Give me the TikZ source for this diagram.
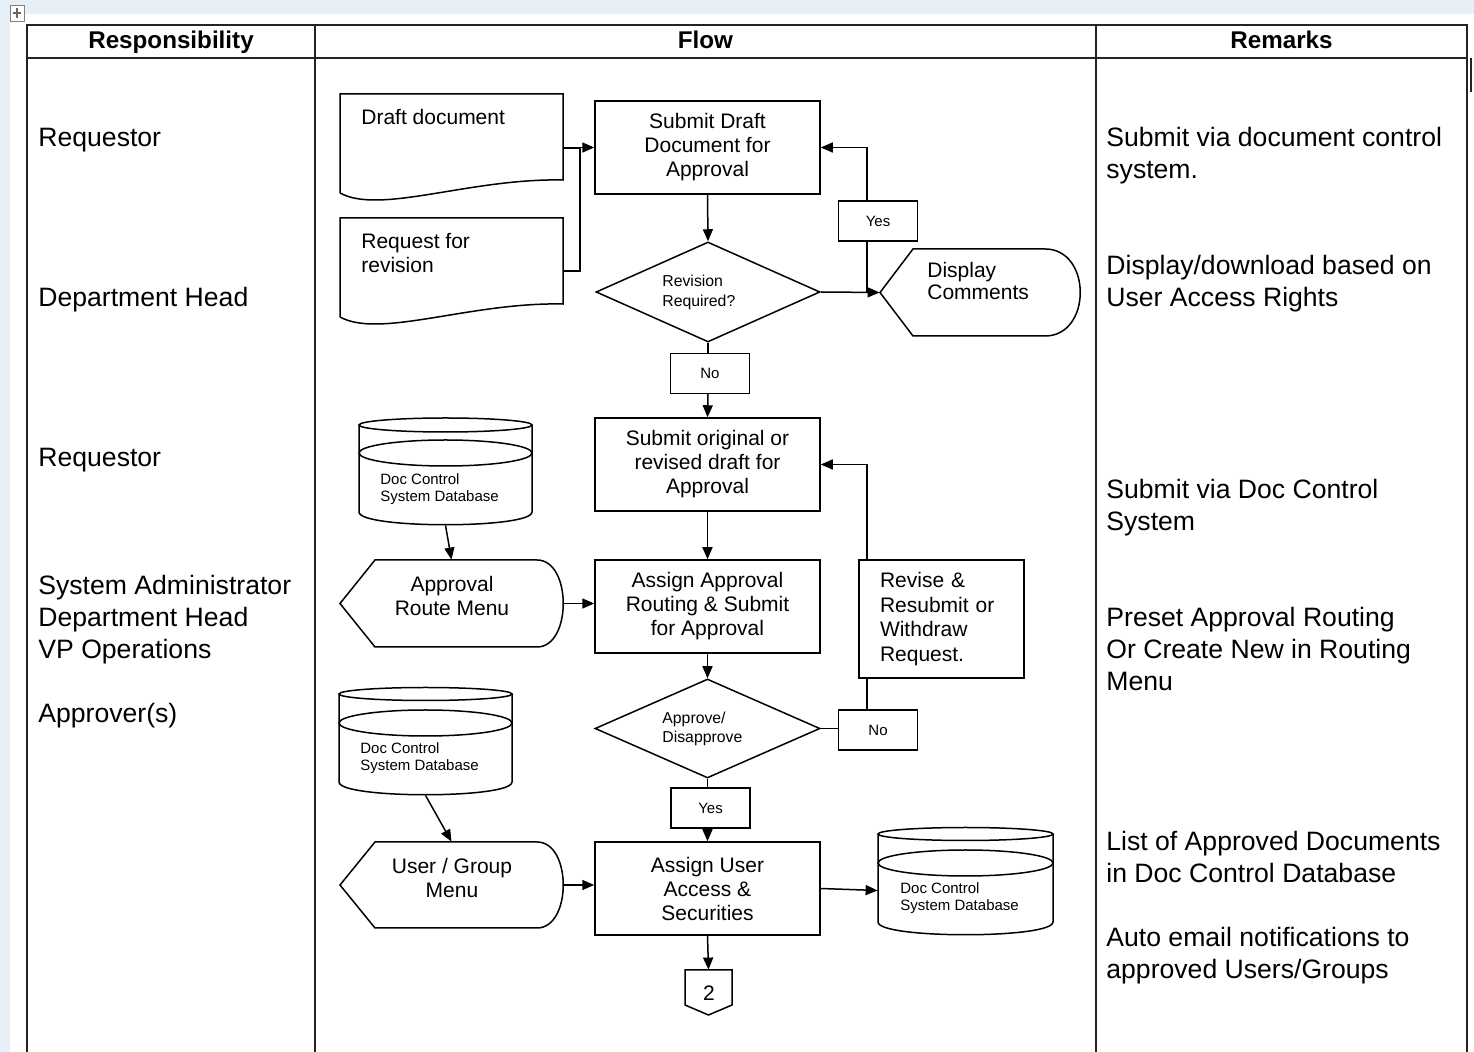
\documentclass[tikz,border=0pt]{standalone}
\usepackage{fontspec}
\setmainfont{Liberation Sans}
\usetikzlibrary{arrows.meta,calc,shapes.geometric}
\definecolor{pageblue}{RGB}{231,240,247}
\definecolor{inkline}{RGB}{35,35,35}
\newcommand\fcBody{\fontsize{13.3}{16}\selectfont}
\newcommand\fcHead{\fontsize{12.1}{14}\selectfont\bfseries}
\newcommand\fcFlow{\fontsize{10.5}{12}\selectfont}
\newcommand\fcSmall{\fontsize{7.9}{10}\selectfont}
\newcommand\fcDb{\fontsize{7.5}{8.6}\selectfont}
\newcommand\fcTag{\fontsize{7.5}{9}\selectfont}
\begin{document}
\begin{tikzpicture}[x=0.5pt,y=-0.5pt,
  tableline/.style={draw=inkline,line width=1pt},
  outline/.style={draw=black,line width=0.75pt},
  conn/.style={draw=black,line width=0.75pt},
  arrow/.style={conn,-{Triangle[length=6pt,width=5pt]}},
  proc/.style={outline,fill=white,minimum width=112.5pt,minimum height=46.5pt,inner sep=2pt,align=center,font=\fcFlow},
  tag/.style={outline,fill=white,minimum width=39.5pt,minimum height=20pt,inner sep=0pt,font=\fcTag},
  decision/.style={outline,diamond,aspect=2.24,minimum width=112pt,minimum height=50pt,inner sep=0pt},
  hold/.style={draw=none,inner sep=0pt},
  role/.style={anchor=base west,align=left,font=\fcBody,inner sep=0pt},
  inlabel/.style={anchor=base west,align=left,inner sep=0pt},
  head/.style={font=\fcHead,inner sep=0pt,anchor=base}
]
\useasboundingbox (0,0) rectangle (1474,1052);

% window backdrop and page
\fill[pageblue] (0,0) rectangle (1474,1052);
\fill[white] (10,14) rectangle (1474,1052);

% table move handle and caret
\draw[gray,line width=0.4pt,fill=white] (10,5) rectangle (24,21);
\draw[gray!80!black,line width=0.6pt] (17,8) -- (17,18) (13,13) -- (21,13);
\draw[inkline,line width=1.4pt] (1471,58) -- (1471,92);

% table grid
\draw[tableline] (27,1052) -- (27,25) -- (1467,25) -- (1467,1052);
\draw[tableline] (27,58) -- (1467,58);
\draw[tableline] (315,25) -- (315,1052);
\draw[tableline] (1096,25) -- (1096,1052);

\node[head] (hresp) at (171,48.5) {Responsibility};
\node[head] (hflow) at (705.5,48.5) {Flow};
\node[head] (hrem) at (1281.5,48.5) {Remarks};

% responsibility column (base anchor = last line's baseline)
\node[role] (r1) at (38,147) {Requestor};
\node[role] (r2) at (38,307) {Department Head};
\node[role] (r3) at (38,467) {Requestor};
\node[role] (r4) at (38,659) {System Administrator\\Department Head\\VP Operations};
\node[role] (r5) at (38,723) {Approver(s)};

% remarks column
\node[role] (m1) at (1106,179) {Submit via document control\\system.};
\node[role] (m2) at (1106,307) {Display/download based on\\User Access Rights};
\node[role] (m3) at (1106,531) {Submit via Doc Control\\System};
\node[role] (m4) at (1106,691) {Preset Approval Routing\\Or Create New in Routing\\Menu};
\node[role] (m5) at (1106,883) {List of Approved Documents\\in Doc Control Database};
\node[role] (m6) at (1106,979) {Auto email notifications to\\approved Users/Groups};

% ---- flow column ----
% document symbols
\node[hold,minimum width=111.5pt,minimum height=54pt] (draft) at (451.5,148) {};
\draw[outline] (340,193) -- (340,94) -- (563,94) -- (563,180)
  .. controls (470,178) and (380,215) .. (340,193);
\node[inlabel,font=\fcFlow] (tdraft) at (361,125) {Draft document};

\node[hold,minimum width=111.5pt,minimum height=53pt] (revreq) at (451.5,271) {};
\draw[outline] (340,317) -- (340,218) -- (563,218) -- (563,304)
  .. controls (470,302) and (380,339) .. (340,317);
\node[inlabel,font=\fcFlow] (trevreq) at (361,273) {Request for\\revision};

% process boxes
\node[proc] (submit) at (707.5,147.5) {Submit Draft\\Document for\\Approval};
\node[decision] (rev) at (708,292) {};
\node[inlabel,font=\fcSmall] (trev) at (662,307) {Revision\\Required?};
\node[tag] (yes1) at (878,221) {Yes};
\node[tag] (no1) at (710,373.5) {No};

% display symbol
\node[hold,minimum width=100pt,minimum height=43.5pt] (disp) at (980,292.5) {};
\draw[outline] (880,292.5) -- (913,249) -- (1045,249)
  .. controls (1092,249) and (1092,336) .. (1045,336) -- (913,336) -- cycle;
\node[inlabel,font={\fontsize{10.5}{11}\selectfont}] (tdisp) at (927,300) {Display\\Comments};

\node[proc] (subo) at (707.5,464.5) {Submit original or\\revised draft for\\Approval};
\node[proc] (assign) at (707.5,606.5) {Assign Approval\\Routing \& Submit\\for Approval};
\node[outline,fill=white,text width=61.5pt,minimum height=59pt,inner xsep=10.5pt,inner ysep=2pt,align=left,
  font={\fontsize{10.5}{12.4}\selectfont}] (revise) at (941.5,619) {Revise \&\\Resubmit or\\Withdraw\\Request.};

\node[decision,minimum width=112.5pt,minimum height=49.5pt] (appr) at (707.5,728.5) {};
\node[inlabel,font={\fontsize{7.9}{9.5}\selectfont}] (tappr) at (662,743) {Approve/\\Disapprove};
\node[tag] (no2) at (878,730) {No};
\node[tag] (yes2) at (710.5,808) {Yes};
\node[proc] (auser) at (707.5,888.5) {Assign User\\Access \&\\Securities};

% off-page connector
\node[hold,minimum width=23.5pt,minimum height=22.5pt] (offpage) at (708.5,992.5) {};
\draw[outline] (685,970) -- (732,970) -- (732,1005) -- (708.5,1015) -- (685,1005) -- cycle;
\node[font=\fcFlow,inner sep=0pt] (toff) at (709,993) {2};

% database symbols
\node[hold,minimum width=86.5pt,minimum height=53.5pt] (db1) at (445.5,471.5) {};
\draw[outline] (359,425) -- (359,512) .. controls (359,529) and (532,529) .. (532,512) -- (532,425);
\draw[outline] (445.5,425) ellipse[x radius=86.5,y radius=7];
\draw[outline] (445.5,453) ellipse[x radius=86.5,y radius=13];
\node[inlabel,font=\fcDb] (tdb1) at (380,502) {Doc Control\\System Database};

\node[hold,minimum width=86.5pt,minimum height=53.5pt] (db2) at (425.5,741.5) {};
\draw[outline] (339,694) -- (339,782) .. controls (339,799) and (512,799) .. (512,782) -- (512,694);
\draw[outline] (425.5,694) ellipse[x radius=86.5,y radius=6.5];
\draw[outline] (425.5,723) ellipse[x radius=86.5,y radius=13];
\node[inlabel,font=\fcDb] (tdb2) at (360,771) {Doc Control\\System Database};

\node[hold,minimum width=87.5pt,minimum height=53.5pt] (db3) at (965.5,881.5) {};
\draw[outline] (878,834) -- (878,922) .. controls (878,939) and (1053,939) .. (1053,922) -- (1053,834);
\draw[outline] (965.5,834) ellipse[x radius=87.5,y radius=6.5];
\draw[outline] (965.5,863) ellipse[x radius=87.5,y radius=13];
\node[inlabel,font=\fcDb] (tdb3) at (900,911) {Doc Control\\System Database};

% menu (display) symbols
\node[hold,minimum width=111.5pt,minimum height=43.5pt] (route) at (451.5,603.5) {};
\draw[outline] (340,603.5) -- (375,560) -- (537,560)
  .. controls (572,560) and (572,647) .. (537,647) -- (375,647) -- cycle;
\node[font=\fcFlow,align=center,inner sep=0pt] (troute) at (452,596) {Approval\\Route Menu};

\node[hold,minimum width=111.5pt,minimum height=43pt] (umenu) at (451.5,885) {};
\draw[outline] (340,885) -- (375,842) -- (537,842)
  .. controls (572,842) and (572,928) .. (537,928) -- (375,928) -- cycle;
\node[font=\fcFlow,align=center,inner sep=0pt] (tumenu) at (452,878) {User / Group\\Menu};

% ---- connectors ----
\coordinate (bus) at (580,0);
\coordinate (vy) at (867,0);
\draw[conn] (draft.east) -- (draft.east -| bus);
\draw[arrow] (revreq.east) -- (revreq.east -| bus) -- (bus |- submit.west) -- (submit.west);
\draw[arrow] (submit.south) -- (rev.north);
\draw[arrow] (rev.east) -- (disp.west);
\draw[conn] (rev.east -| vy) -- (yes1.south -| vy);
\draw[arrow] (yes1.north -| vy) -- (vy |- submit.east) -- (submit.east);
\draw[conn] (rev.south) -- (rev.south |- no1.north);
\draw[arrow] (rev.south |- no1.south) -- (subo.north);
\draw[arrow] (subo.south) -- (assign.north);
\draw[arrow] (revise.north -| vy) -- (vy |- subo.east) -- (subo.east);
\draw[arrow] (db1.south) -- (route.north);
\draw[arrow] (route.east) -- (route.east -| assign.west);
\draw[arrow] (assign.south) -- (appr.north);
\draw[conn] (appr.east) -- (appr.east -| no2.west);
\draw[conn] (no2.north -| vy) -- (revise.south -| vy);
\draw[conn] (appr.south) -- (appr.south |- yes2.north);
\draw[arrow] (appr.south |- yes2.south) -- (auser.north);
\draw[arrow] (db2.south) -- (umenu.north);
\draw[arrow] (umenu.east) -- (umenu.east -| auser.west);
\draw[arrow] (auser.east) -- ($(db3.west)+(0,9)$);
\draw[arrow] (auser.south) -- (offpage.north);
\end{tikzpicture}
\end{document}
